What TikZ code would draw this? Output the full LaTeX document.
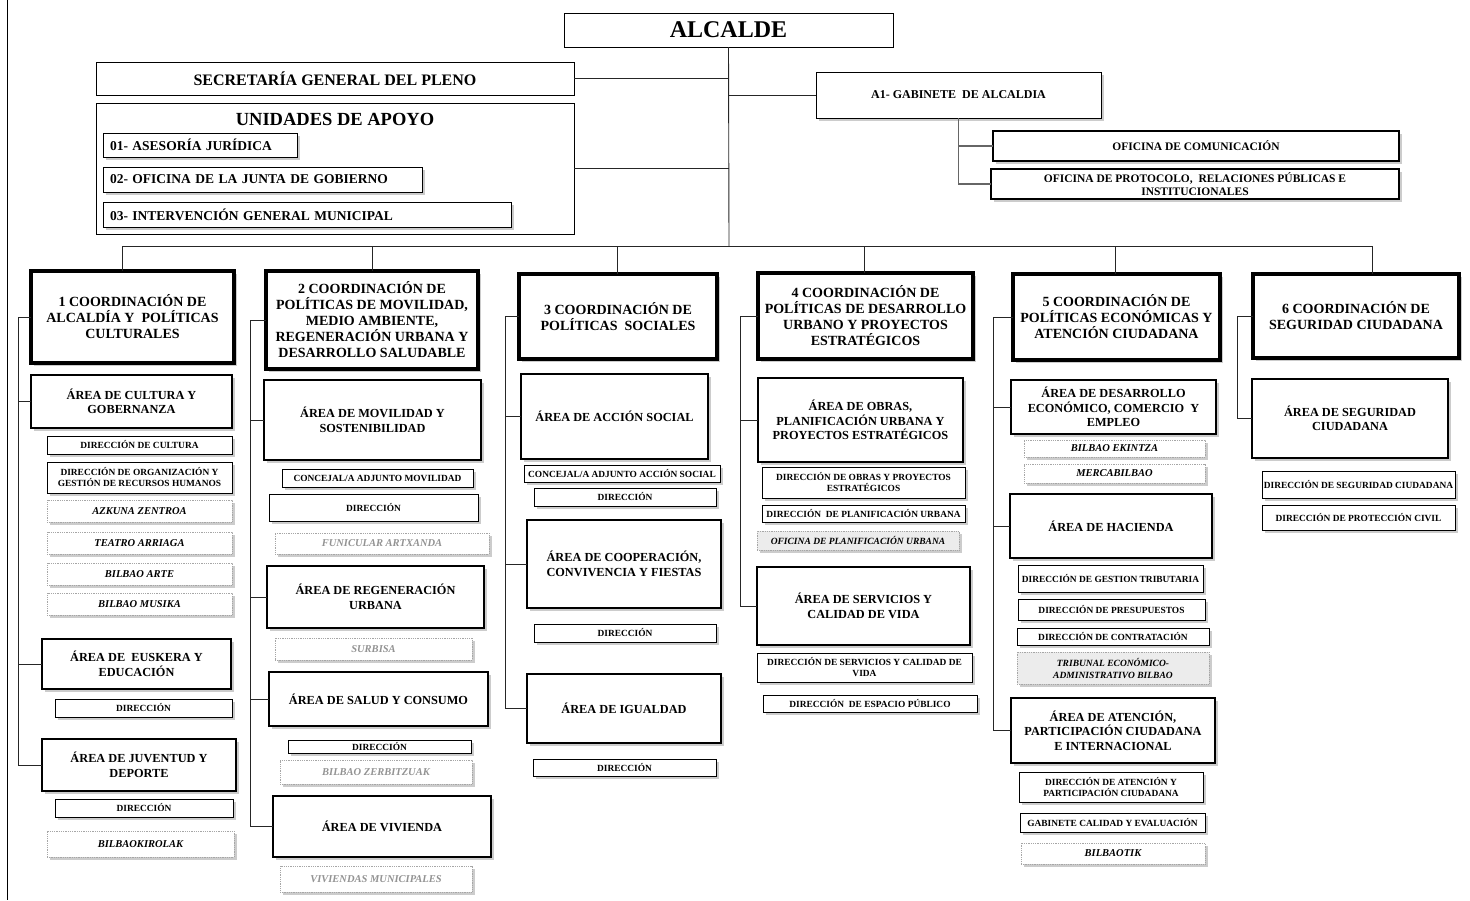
\documentclass[tikz,border=0pt]{standalone}
\usepackage{fontspec}
\setmainfont{Liberation Serif}
\usetikzlibrary{shadows}

\tikzset{
  base/.style={draw=black, fill=white, inner sep=1pt, outer sep=0pt, align=center},
  sh/.style={drop shadow={shadow xshift=2.5pt, shadow yshift=-2.5pt, fill=black!40}},
  topbox/.style={base, line width=0.8pt},
  unitbox/.style={base, line width=1pt, sh, align=left, inner xsep=7pt,
    font=\fontsize{13.5}{15}\selectfont\bfseries},
  gabsub/.style={base, line width=1.8pt, sh, font=\fontsize{11.5}{13.5}\selectfont\bfseries},
  coordbox/.style={base, line width=3.2pt, sh, font=\fontsize{14}{16}\selectfont\bfseries},
  areabox/.style={base, line width=1.8pt, sh, font=\fontsize{12.3}{14.5}\selectfont\bfseries},
  dirbox/.style={base, line width=1pt, sh, font=\fontsize{9.4}{11}\selectfont\bfseries},
  entbox/.style={base, draw=gray!70, densely dotted, line width=0.8pt, sh,
    font=\fontsize{10.5}{11.5}\selectfont\bfseries\itshape},
  entgray/.style={entbox, text=gray!85},
  entfill/.style={entbox, fill=gray!15, font=\fontsize{9.5}{12}\selectfont\bfseries\itshape},
  link/.style={draw=black!85, line width=0.9pt},
  sublink/.style={draw=black!60, line width=1.2pt},
}

% box from its corners (x1,y1)-(x2,y2), y growing downwards
\newcommand{\bx}[7]{\node[#1, minimum width={(#5-#3)*1pt}, minimum height={(#6-#4)*1pt}] (#2) at ({(#3+#5)/2},{(#4+#6)/2}) {#7};}

\begin{document}
\begin{tikzpicture}[x=1pt, y=-1pt]
\useasboundingbox (0,0) rectangle (1470,900);

% page rule on the left
\draw[line width=1pt] (7,0) -- (7,900);

% ---------------- top level ----------------
\bx{topbox}{alc}{564}{13}{893}{47}{\fontsize{24}{26}\selectfont\bfseries ALCALDE}
\bx{topbox}{sgp}{96}{62}{574}{95}{\fontsize{16}{18}\selectfont\bfseries SECRETARÍA GENERAL DEL PLENO}
\bx{topbox}{uda}{96}{103}{574}{234}{}
\node[font=\fontsize{18.5}{20}\selectfont\bfseries] (udatitle) at (335,119) {UNIDADES DE APOYO};
\node[unitbox, text width=180pt, minimum height=24pt, anchor=north west] (u1) at (103,133) {01- ASESORÍA JURÍDICA};
\node[unitbox, text width=305pt, minimum height=25pt, anchor=north west] (u2) at (103,167) {02- OFICINA DE LA JUNTA DE GOBIERNO};
\node[unitbox, text width=394pt, minimum height=25pt, anchor=north west] (u3) at (103,202) {03- INTERVENCIÓN GENERAL MUNICIPAL};

\bx{topbox,sh}{gab}{816}{72}{1101}{118}{\fontsize{12}{14}\selectfont\bfseries A1- GABINETE\ \ DE ALCALDIA}
\bx{gabsub}{ocom}{993}{131}{1399}{161}{OFICINA DE COMUNICACIÓN}
\bx{gabsub}{oprot}{991}{169}{1399}{199}{OFICINA DE PROTOCOLO,\ \ RELACIONES PÚBLICAS E\\INSTITUCIONALES}

% ---------------- column 1 ----------------
\bx{coordbox}{c1}{31}{271}{234}{363}{1 COORDINACIÓN DE\\ALCALDÍA Y\ \ POLÍTICAS\\CULTURALES}
\bx{areabox}{a11}{31}{375}{232}{428}{ÁREA DE CULTURA Y\\GOBERNANZA}
\bx{dirbox}{d111}{47}{436}{232}{454}{DIRECCIÓN DE CULTURA}
\bx{dirbox}{d112}{47}{462}{232}{493}{DIRECCIÓN DE ORGANIZACIÓN Y\\GESTIÓN DE RECURSOS HUMANOS}
\bx{entbox}{e111}{47}{500}{232}{522}{AZKUNA ZENTROA}
\bx{entbox}{e112}{47}{532}{232}{554}{TEATRO ARRIAGA}
\bx{entbox}{e113}{47}{563}{232}{585}{BILBAO ARTE}
\bx{entbox}{e114}{47}{593}{232}{615}{BILBAO MUSIKA}
\bx{areabox}{a12}{42}{639}{231}{689}{ÁREA DE\ \ EUSKERA Y\\EDUCACIÓN}
\bx{dirbox}{d121}{55}{699}{232}{717}{DIRECCIÓN}
\bx{areabox}{a13}{42}{739}{236}{791}{ÁREA DE JUVENTUD Y\\DEPORTE}
\bx{dirbox}{d131}{55}{799}{233}{817}{DIRECCIÓN}
\bx{entbox}{e131}{47}{831}{234}{857}{BILBAOKIROLAK}

% ---------------- column 2 ----------------
\bx{coordbox}{c2}{266}{271}{478}{369}{2 COORDINACIÓN DE\\POLÍTICAS DE MOVILIDAD,\\MEDIO AMBIENTE,\\REGENERACIÓN URBANA Y\\DESARROLLO SALUDABLE}
\bx{areabox}{a21}{264}{380}{481}{460}{ÁREA DE MOVILIDAD Y\\SOSTENIBILIDAD}
\bx{dirbox}{d211}{282}{469}{473}{487}{CONCEJAL/A ADJUNTO MOVILIDAD}
\bx{dirbox}{d212}{269}{494}{478}{521}{DIRECCIÓN}
\bx{entgray}{e211}{275}{533}{489}{554}{FUNICULAR ARTXANDA}
\bx{areabox}{a22}{267}{566}{484}{628}{ÁREA DE REGENERACIÓN\\URBANA}
\bx{entgray}{e221}{275}{638}{472}{660}{SURBISA}
\bx{areabox}{a23}{269}{672}{488}{726}{ÁREA DE SALUD Y CONSUMO}
\bx{dirbox}{d231}{288}{740}{471}{753}{DIRECCIÓN}
\bx{entgray}{e231}{280}{760}{472}{784}{BILBAO ZERBITZUAK}
\bx{areabox}{a24}{273}{796}{491}{857}{ÁREA DE VIVIENDA}
\bx{entgray}{e241}{280}{866}{472}{892}{VIVIENDAS MUNICIPALES}

% ---------------- column 3 ----------------
\bx{coordbox}{c3}{519}{274}{717}{359}{3 COORDINACIÓN DE\\POLÍTICAS\ \ SOCIALES}
\bx{areabox}{a31}{521}{374}{708}{459}{ÁREA DE ACCIÓN SOCIAL}
\bx{dirbox}{d311}{524}{465}{720}{482}{CONCEJAL/A ADJUNTO ACCIÓN SOCIAL}
\bx{dirbox}{d312}{534}{488}{716}{506}{DIRECCIÓN}
\bx{areabox}{a32}{527}{520}{721}{608}{ÁREA DE COOPERACIÓN,\\CONVIVENCIA Y FIESTAS}
\bx{dirbox}{d321}{534}{624}{716}{642}{DIRECCIÓN}
\bx{areabox}{a33}{527}{674}{721}{743}{ÁREA DE IGUALDAD}
\bx{dirbox}{d331}{533}{759}{716}{776}{DIRECCIÓN}

% ---------------- column 4 ----------------
\bx{coordbox}{c4}{758}{273}{973}{359}{4 COORDINACIÓN DE\\POLÍTICAS DE DESARROLLO\\URBANO Y PROYECTOS\\ESTRATÉGICOS}
\bx{areabox}{a41}{758}{378}{963}{462}{ÁREA DE OBRAS,\\PLANIFICACIÓN URBANA Y\\PROYECTOS ESTRATÉGICOS}
\bx{dirbox}{d411}{762}{467}{965}{498}{DIRECCIÓN DE OBRAS Y PROYECTOS\\ESTRATÉGICOS}
\bx{dirbox}{d412}{762}{505}{965}{522}{DIRECCIÓN\ \ DE PLANIFICACIÓN URBANA}
\bx{entfill}{e411}{757}{531}{959}{550}{OFICINA DE PLANIFICACIÓN URBANA}
\bx{areabox}{a42}{757}{567}{970}{645}{ÁREA DE SERVICIOS Y\\CALIDAD DE VIDA}
\bx{dirbox}{d421}{757}{653}{972}{682}{DIRECCIÓN DE SERVICIOS Y CALIDAD DE\\VIDA}
\bx{dirbox}{d422}{763}{695}{977}{712}{DIRECCIÓN\ \ DE ESPACIO PÚBLICO}

% ---------------- column 5 ----------------
\bx{coordbox}{c5}{1013}{274}{1220}{360}{5 COORDINACIÓN DE\\POLÍTICAS ECONÓMICAS Y\\ATENCIÓN CIUDADANA}
\bx{areabox}{a51}{1011}{380}{1216}{434}{ÁREA DE DESARROLLO\\ECONÓMICO, COMERCIO\ \ Y\\EMPLEO}
\bx{entbox}{e511}{1024}{440}{1205}{457}{BILBAO EKINTZA}
\bx{entbox}{e512}{1024}{464}{1205}{483}{MERCABILBAO}
\bx{areabox}{a52}{1010}{494}{1212}{558}{ÁREA DE HACIENDA}
\bx{dirbox}{d521}{1018}{565}{1203}{592}{DIRECCIÓN DE GESTION TRIBUTARIA}
\bx{dirbox}{d522}{1018}{599}{1205}{620}{DIRECCIÓN DE PRESUPUESTOS}
\bx{dirbox}{d523}{1017}{628}{1209}{645}{DIRECCIÓN DE CONTRATACIÓN}
\bx{entfill}{e521}{1017}{652}{1209}{684}{TRIBUNAL ECONÓMICO-\\ADMINISTRATIVO BILBAO}
\bx{areabox}{a53}{1011}{698}{1215}{763}{ÁREA DE ATENCIÓN,\\PARTICIPACIÓN CIUDADANA\\E INTERNACIONAL}
\bx{dirbox}{d531}{1019}{772}{1203}{802}{DIRECCIÓN DE ATENCIÓN Y\\PARTICIPACIÓN CIUDADANA}
\bx{dirbox}{d532}{1020}{813}{1205}{832}{GABINETE CALIDAD Y EVALUACIÓN}
\bx{entbox}{e531}{1021}{843}{1205}{864}{BILBAOTIK}

% ---------------- column 6 ----------------
\bx{coordbox}{c6}{1253}{274}{1459}{358}{6 COORDINACIÓN DE\\SEGURIDAD CIUDADANA}
\bx{areabox}{a61}{1252}{379}{1448}{458}{ÁREA DE SEGURIDAD\\CIUDADANA}
\bx{dirbox}{d611}{1262}{471}{1455}{498}{DIRECCIÓN DE SEGURIDAD CIUDADANA}
\bx{dirbox}{d612}{1262}{505}{1455}{530}{DIRECCIÓN DE PROTECCIÓN CIVIL}

% ---------------- connectors ----------------
\coordinate (trunk) at (729,246);
\coordinate (t1) at (122,246);
\coordinate (t2) at (372,246);
\coordinate (t3) at (617,246);
\coordinate (t4) at (864,246);
\coordinate (t5) at (1115,246);
\coordinate (t6) at (1372,246);

\draw[link] (alc.south) -- (trunk);
\draw[link] (t1) -- (t6);
\draw[link] (sgp.east) -- (sgp.east -| alc.south);
\draw[link] (uda.east) -- (uda.east -| alc.south);
\draw[link] (gab.west) -- (gab.west -| alc.south);

\draw[sublink] (gab.south) -- (gab.south |- oprot.west) -- (oprot.west);
\draw[sublink] (gab.south |- ocom.west) -- (ocom.west);

\foreach \i in {1,...,6} { \draw[link] (t\i) -- (t\i |- c\i.north); }

% side brackets of each column
\coordinate (k1) at (18,0);
\coordinate (k2) at (250,0);
\coordinate (k3) at (505,0);
\coordinate (k4) at (740,0);
\coordinate (k5) at (993,0);
\coordinate (k6) at (1237,0);

\draw[link] (c1.west) -- (k1 |- c1.west) -- (k1 |- a13.west) -- (a13.west);
\draw[link] (k1 |- a11.west) -- (a11.west);
\draw[link] (k1 |- a12.west) -- (a12.west);

\draw[link] (c2.west) -- (k2 |- c2.west) -- (k2 |- a24.west) -- (a24.west);
\draw[link] (k2 |- a21.west) -- (a21.west);
\draw[link] (k2 |- a22.west) -- (a22.west);
\draw[link] (k2 |- a23.west) -- (a23.west);

\draw[link] (c3.west) -- (k3 |- c3.west) -- (k3 |- a33.west) -- (a33.west);
\draw[link] (k3 |- a31.west) -- (a31.west);
\draw[link] (k3 |- a32.west) -- (a32.west);

\draw[link] (c4.west) -- (k4 |- c4.west) -- (k4 |- a42.west) -- (a42.west);
\draw[link] (k4 |- a41.west) -- (a41.west);

\draw[link] (c5.west) -- (k5 |- c5.west) -- (k5 |- a53.west) -- (a53.west);
\draw[link] (k5 |- a51.west) -- (a51.west);
\draw[link] (k5 |- a52.west) -- (a52.west);

\draw[link] (c6.west) -- (k6 |- c6.west) -- (k6 |- a61.west) -- (a61.west);
\end{tikzpicture}
\end{document}
